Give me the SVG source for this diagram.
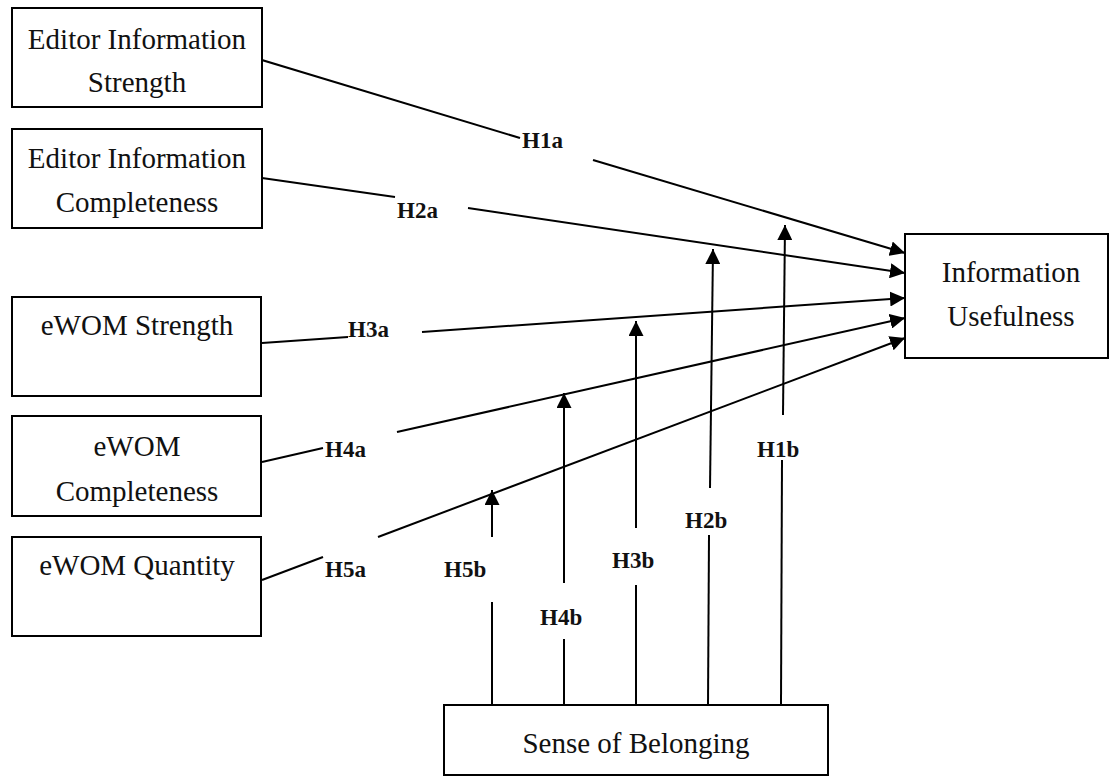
<svg xmlns="http://www.w3.org/2000/svg" width="1110" height="776" viewBox="0 0 1110 776">
<style>
.box{fill:#fff;stroke:#000;stroke-width:2}
.t{font-family:"Liberation Serif","Times New Roman",serif;font-size:29px;fill:#111;text-anchor:middle}
.l{font-family:"Liberation Serif","Times New Roman",serif;font-size:23px;font-weight:bold;fill:#111}
.c{stroke:#000;stroke-width:2;fill:none}
</style>
<defs>
<marker id="ah" markerWidth="16" markerHeight="15" refX="15" refY="7.5" orient="auto" markerUnits="userSpaceOnUse">
<path d="M0,0 L15,7.5 L0,15 z" fill="#000"/>
</marker>
</defs>
<rect width="1110" height="776" fill="#fff"/>
<g id="connectors">
<line class="c" x1="252" y1="57" x2="520" y2="138"/>
<line class="c" x1="593" y1="160" x2="905" y2="253" marker-end="url(#ah)"/>
<line class="c" x1="262" y1="178" x2="395" y2="197"/>
<line class="c" x1="468" y1="208" x2="905" y2="273" marker-end="url(#ah)"/>
<line class="c" x1="262" y1="343" x2="348" y2="337"/>
<line class="c" x1="422" y1="332" x2="905" y2="298" marker-end="url(#ah)"/>
<line class="c" x1="262" y1="462" x2="323" y2="448"/>
<line class="c" x1="397" y1="432" x2="905" y2="318" marker-end="url(#ah)"/>
<line class="c" x1="262" y1="580" x2="323" y2="557"/>
<line class="c" x1="378" y1="537" x2="905" y2="338" marker-end="url(#ah)"/>
<line class="c" x1="492" y1="705" x2="492" y2="602"/>
<line class="c" x1="492" y1="537" x2="492" y2="490" marker-end="url(#ah)"/>
<line class="c" x1="564" y1="705" x2="564" y2="639"/>
<line class="c" x1="564" y1="583" x2="564" y2="393" marker-end="url(#ah)"/>
<line class="c" x1="636" y1="705" x2="636" y2="585"/>
<line class="c" x1="636" y1="528" x2="636" y2="321" marker-end="url(#ah)"/>
<line class="c" x1="708" y1="705" x2="709" y2="535"/>
<line class="c" x1="710" y1="488" x2="713" y2="249" marker-end="url(#ah)"/>
<line class="c" x1="781" y1="705" x2="782" y2="460"/>
<line class="c" x1="783" y1="415" x2="785" y2="225" marker-end="url(#ah)"/>
<text class="l" x="522" y="148">H1a</text>
<text class="l" x="397" y="218">H2a</text>
<text class="l" x="348" y="337">H3a</text>
<text class="l" x="325" y="457">H4a</text>
<text class="l" x="325" y="577">H5a</text>
<text class="l" x="444" y="577">H5b</text>
<text class="l" x="540" y="625">H4b</text>
<text class="l" x="612" y="568">H3b</text>
<text class="l" x="685" y="528">H2b</text>
<text class="l" x="757" y="457">H1b</text>
</g>
<g id="eis">
<rect class="box" x="12" y="8" width="250" height="99"/>
<text class="t" x="137" y="49">Editor Information</text>
<text class="t" x="137" y="92">Strength</text>
</g>
<g id="eic">
<rect class="box" x="12" y="129" width="250" height="99"/>
<text class="t" x="137" y="168">Editor Information</text>
<text class="t" x="137" y="212">Completeness</text>
</g>
<g id="ewoms">
<rect class="box" x="12" y="297" width="249" height="99"/>
<text class="t" x="137" y="335">eWOM Strength</text>
</g>
<g id="ewomc">
<rect class="box" x="12" y="416" width="249" height="100"/>
<text class="t" x="137" y="456">eWOM</text>
<text class="t" x="137" y="501">Completeness</text>
</g>
<g id="ewomq">
<rect class="box" x="12" y="537" width="249" height="99"/>
<text class="t" x="137" y="575">eWOM Quantity</text>
</g>
<g id="iu">
<rect class="box" x="905" y="234" width="203" height="124"/>
<text class="t" x="1011" y="282">Information</text>
<text class="t" x="1011" y="326">Usefulness</text>
</g>
<g id="sob">
<rect class="box" x="444" y="705" width="384" height="70"/>
<text class="t" x="636" y="753">Sense of Belonging</text>
</g>
</svg>
